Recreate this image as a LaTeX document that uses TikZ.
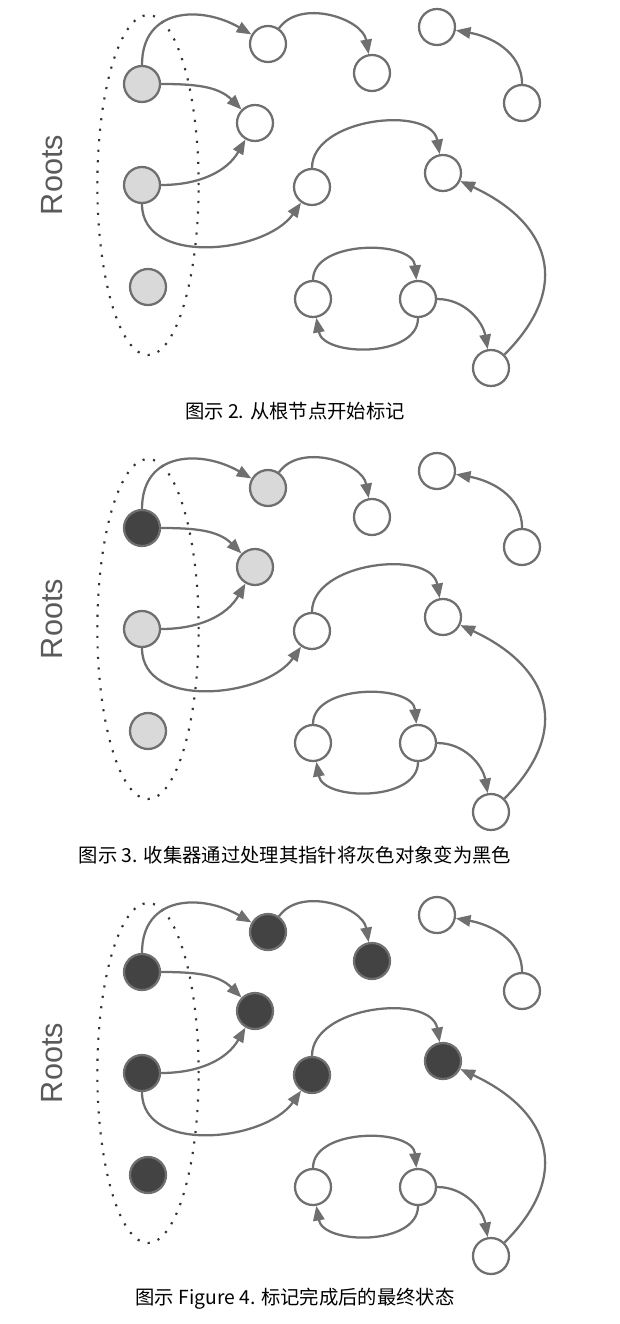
\documentclass[tikz,border=0pt]{standalone}
\usepackage{fontspec}
\setmainfont{Liberation Sans}
\newfontfamily\cjk{Noto Sans CJK SC}
\usetikzlibrary{arrows.meta}
\definecolor{edgegray}{HTML}{6F6F6F}
\definecolor{lightobj}{HTML}{D9D9D9}
\definecolor{darkobj}{HTML}{434343}
\definecolor{rootsgray}{HTML}{5A5A5A}
\tikzset{
  obj/.style={circle,draw=edgegray,line width=1.7pt,minimum size=27pt,inner sep=0pt},
  ref/.style={-{Triangle[length=11pt,width=8.5pt]},draw=edgegray,line width=1.7pt},
  rootset/.style={draw=black!80,line width=1.6pt,dash pattern=on 1.6pt off 6.3pt}
}
\begin{document}
\begin{tikzpicture}[x=0.75pt,y=-0.75pt]
\useasboundingbox (0,0) rectangle (619,1324);

\foreach \dy/\ra/\rb/\rc/\oa/\ob/\oc/\od/\oe/\ctext in {
  0/lightobj/lightobj/lightobj/white/white/white/white/white/{图示 2. 从根节点开始标记},
  444/darkobj/lightobj/lightobj/lightobj/white/lightobj/white/white/{图示 3. 收集器通过处理其指针将灰色对象变为黑色},
  888/darkobj/darkobj/darkobj/darkobj/darkobj/darkobj/darkobj/darkobj/{图示 Figure 4. 标记完成后的最终状态}}
{
\begin{scope}[shift={(0,\dy)}]
\draw[rootset] (148,185) ellipse [x radius=38pt, y radius=127.5pt];
\node[rotate=90,text=rootsgray,font=\fontsize{23}{23}\selectfont] (roots) at (52.5,175) {Roots};

\node[obj,fill=\ra] (r1) at (142,84) {};
\node[obj,fill=\rb] (r2) at (142,185) {};
\node[obj,fill=\rc] (r3) at (148,287) {};
\node[obj,fill=\oa] (a) at (268,44) {};
\node[obj,fill=\ob] (b) at (372,73) {};
\node[obj,fill=\oc] (c) at (255,123) {};
\node[obj,fill=\od] (d) at (312,187) {};
\node[obj,fill=\oe] (e) at (443,173) {};
\node[obj,fill=white] (f) at (437,27) {};
\node[obj,fill=white] (g) at (522,103) {};
\node[obj,fill=white] (h) at (313,299) {};
\node[obj,fill=white] (i) at (418,299) {};
\node[obj,fill=white] (j) at (491,368) {};

\draw[ref] (r1) to[out=90,in=150,looseness=1.3] (a);
\draw[ref] (a) to[out=55,in=100] (b);
\draw[ref] (r1) to[out=0,in=135] (c);
\draw[ref] (r2) to[out=0,in=240] (c);
\draw[ref] (r2) to[out=270,in=235] (d);
\draw[ref] (d) to[out=90,in=100] (e);
\draw[ref] (j) to[out=45,in=-25,looseness=1.4] (e);
\draw[ref] (g) to[out=90,in=-10] (f);
\draw[ref] (h) to[out=90,in=95] (i);
\draw[ref] (i) to[out=270,in=280] (h);
\draw[ref] (i) to[out=0,in=100] (j);

\node[font=\cjk\fontsize{14.5}{14.5}\selectfont] (caption) at (295,411) {\ctext};
\end{scope}
}
\end{tikzpicture}
\end{document}
